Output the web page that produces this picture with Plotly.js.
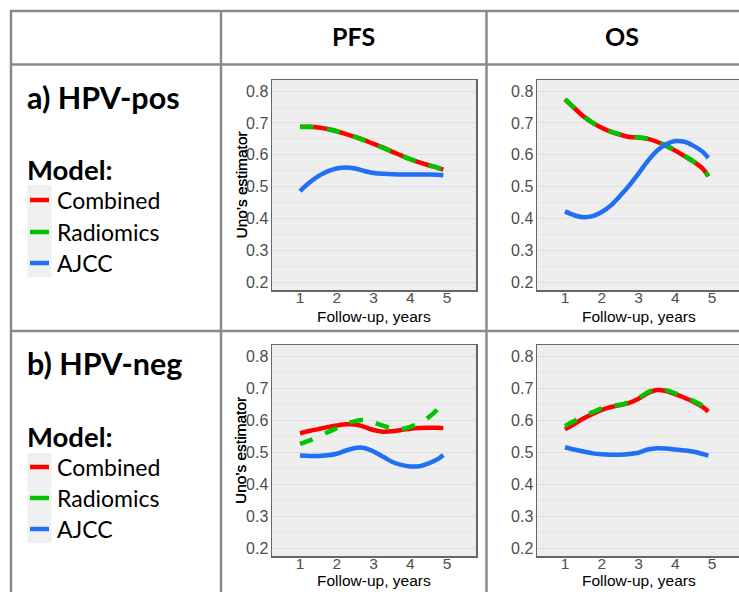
<!DOCTYPE html>
<html><head><meta charset="utf-8">
<script src="https://cdn.plot.ly/plotly-3.0.1.min.js"></script>
<style>html,body{margin:0;padding:0;overflow:hidden;background:#fff}#chart{width:760px;height:592px}</style>
</head><body><div id="chart"></div><script>
// ---- data ----
const followUp = [1, 1.25, 1.5, 1.75, 2, 2.25, 2.5, 2.75, 3, 3.25, 3.5, 3.75, 4, 4.25, 4.5, 4.75, 4.9];
const models = ["Combined", "Radiomics", "AJCC"];
const columns = ["PFS", "OS"];
const rows = ["a) HPV-pos", "b) HPV-neg"];
const xTicks = [1, 2, 3, 4, 5];
const yTicks = [0.2, 0.3, 0.4, 0.5, 0.6, 0.7, 0.8];
const yTickText = ["0.2", "0.3", "0.4", "0.5", "0.6", "0.7", "0.8"];

// HPV-pos, PFS
const posPfsCombined  = [0.688, 0.688, 0.686, 0.681, 0.674, 0.665, 0.656, 0.646, 0.634, 0.623, 0.610, 0.598, 0.586, 0.576, 0.567, 0.559, 0.553];
const posPfsRadiomics = [0.687, 0.687, 0.686, 0.681, 0.674, 0.665, 0.656, 0.645, 0.634, 0.622, 0.610, 0.597, 0.586, 0.576, 0.567, 0.559, 0.553];
const posPfsAjcc      = [0.486, 0.512, 0.533, 0.548, 0.557, 0.560, 0.557, 0.549, 0.543, 0.540, 0.539, 0.538, 0.538, 0.538, 0.538, 0.537, 0.536];
// HPV-pos, OS
const posOsCombined   = [0.774, 0.747, 0.721, 0.700, 0.685, 0.672, 0.663, 0.656, 0.654, 0.650, 0.641, 0.628, 0.613, 0.596, 0.578, 0.556, 0.532];
const posOsRadiomics  = [0.775, 0.748, 0.722, 0.701, 0.686, 0.673, 0.664, 0.657, 0.655, 0.651, 0.642, 0.629, 0.614, 0.597, 0.579, 0.557, 0.533];
const posOsAjcc       = [0.422, 0.410, 0.404, 0.407, 0.420, 0.441, 0.471, 0.504, 0.541, 0.580, 0.612, 0.633, 0.643, 0.641, 0.628, 0.609, 0.590];
// HPV-neg, PFS
const negPfsCombined  = [0.559, 0.566, 0.572, 0.578, 0.583, 0.587, 0.586, 0.579, 0.569, 0.564, 0.565, 0.569, 0.573, 0.575, 0.576, 0.576, 0.575];
const negPfsRadiomics = [0.526, 0.536, 0.548, 0.562, 0.575, 0.588, 0.597, 0.600, 0.593, 0.583, 0.574, 0.572, 0.579, 0.590, 0.609, 0.635, 0.663];
const negPfsAjcc      = [0.489, 0.488, 0.488, 0.490, 0.495, 0.505, 0.513, 0.513, 0.502, 0.486, 0.470, 0.460, 0.455, 0.456, 0.465, 0.478, 0.491];
// HPV-neg, OS
const negOsCombined   = [0.571, 0.588, 0.605, 0.619, 0.632, 0.641, 0.647, 0.654, 0.667, 0.684, 0.694, 0.691, 0.681, 0.670, 0.657, 0.641, 0.627];
const negOsRadiomics  = [0.582, 0.597, 0.613, 0.625, 0.637, 0.644, 0.648, 0.656, 0.669, 0.687, 0.698, 0.694, 0.684, 0.672, 0.660, 0.645, 0.632];
const negOsAjcc       = [0.515, 0.508, 0.502, 0.496, 0.493, 0.492, 0.492, 0.494, 0.498, 0.508, 0.512, 0.511, 0.508, 0.505, 0.501, 0.494, 0.489];

// ---- styling ----
const W = 760, H = 592;
const fx = p => p / W;
const fy = p => 1 - p / H;
const colors = {Combined: "#FF0000", Radiomics: "#00C400", AJCC: "#2070F5"};
const dashes = {Combined: "solid", Radiomics: "dash", AJCC: "solid"};
const sans = "Liberation Sans, Arial, sans-serif";
const humanist = "Lato, Noto Sans, sans-serif";

const panels = [
  {ax: "", series: [posPfsCombined, posPfsRadiomics, posPfsAjcc], xd: [272, 476], yd: [80, 290], xt: 316},
  {ax: "2", series: [posOsCombined, posOsRadiomics, posOsAjcc], xd: [537, 741], yd: [80, 290], xt: 316},
  {ax: "3", series: [negPfsCombined, negPfsRadiomics, negPfsAjcc], xd: [272, 476], yd: [345, 556], xt: 580},
  {ax: "4", series: [negOsCombined, negOsRadiomics, negOsAjcc], xd: [537, 741], yd: [345, 556], xt: 580}
];

const traces = [];
const layout = {
  width: W, height: H, margin: {l: 0, r: 0, t: 0, b: 0},
  paper_bgcolor: "#FFFFFF", plot_bgcolor: "#EEEEEE", showlegend: false,
  font: {family: sans},
  shapes: [], annotations: []
};

panels.forEach(p => {
  p.series.forEach((vals, i) => {
    const m = models[i];
    traces.push({
      x: followUp, y: vals, type: "scatter", mode: "lines", name: m,
      xaxis: "x" + p.ax, yaxis: "y" + p.ax,
      line: {color: colors[m], width: 4.5, dash: dashes[m], shape: "spline", smoothing: 0.8}
    });
  });
  layout["xaxis" + p.ax] = {
    domain: [fx(p.xd[0]), fx(p.xd[1])], anchor: "y" + p.ax,
    range: [0.238, 5.789], tickvals: xTicks, showgrid: false, zeroline: false,
    showline: true, mirror: true, linecolor: "#666666", linewidth: 1.5, ticks: "",
    ticklabelstandoff: -7,
    tickfont: {size: 15.5, color: "#4D4D4D", family: sans}
  };
  layout["yaxis" + p.ax] = {
    domain: [fy(p.yd[1]), fy(p.yd[0])], anchor: "x" + p.ax,
    range: [0.175, 0.835], tickvals: yTicks, ticktext: yTickText,
    showgrid: true, gridcolor: "#DEDEDE", gridwidth: 1, zeroline: false,
    minor: {tickvals: [0.25, 0.35, 0.45, 0.55, 0.65, 0.75], showgrid: true, gridcolor: "#E4E4E4", gridwidth: 1},
    showline: true, mirror: true, linecolor: "#666666", linewidth: 1.5, ticks: "",
    ticklabelstandoff: -1,
    tickfont: {size: 16, color: "#4D4D4D", family: sans}
  };
  layout.annotations.push({
    text: "Uno's estimator", xref: "paper", yref: "paper", textangle: -90,
    x: fx(240.5), y: fy((p.yd[0] + p.yd[1]) / 2), xanchor: "center", yanchor: "middle", showarrow: false,
    font: {size: 15.5, color: "#000000", family: sans}
  });
  layout.annotations.push({
    text: "Follow-up, years", xref: "paper", yref: "paper",
    x: fx((p.xd[0] + p.xd[1]) / 2), y: fy(p.xt), xanchor: "center", yanchor: "middle", showarrow: false,
    font: {size: 15.5, color: "#000000", family: sans}
  });
});

// table lines
const lc = "#8A8A8A", lw = 2.5;
function hline(y, x0, x1) { layout.shapes.push({type: "line", xref: "paper", yref: "paper", x0: fx(x0), x1: fx(x1), y0: fy(y), y1: fy(y), line: {color: lc, width: lw}, layer: "below"}); }
function vline(x, y0, y1) { layout.shapes.push({type: "line", xref: "paper", yref: "paper", x0: fx(x), x1: fx(x), y0: fy(y0), y1: fy(y1), line: {color: lc, width: lw}, layer: "below"}); }
hline(11, 10, W); hline(64.5, 11, W); hline(331, 11, W);
vline(11, 10, H + 2); vline(221, 11, H + 2); vline(486.5, 11, H + 2);

// column headers
[[353, columns[0]], [622, columns[1]]].forEach(([x, t]) => layout.annotations.push({
  text: "<b>" + t + "</b>", xref: "paper", yref: "paper", x: fx(x), y: fy(36), xanchor: "center", yanchor: "middle",
  showarrow: false, font: {size: 25, color: "#000000", family: humanist}
}));

// row labels + legend
const rowGeo = [
  {title: 97, model: 169, items: [200, 232, 263], key: [185, 277]},
  {title: 363, model: 436, items: [467, 498, 529], key: [453, 543]}
];
rowGeo.forEach((g, r) => {
  layout.annotations.push({text: "<b>" + rows[r] + "</b>", xref: "paper", yref: "paper", x: fx(25), y: fy(g.title),
    xanchor: "left", yanchor: "middle", showarrow: false, font: {size: 30.5, color: "#000000", family: humanist}});
  layout.annotations.push({text: "<b>Model:</b>", xref: "paper", yref: "paper", x: fx(25), y: fy(g.model),
    xanchor: "left", yanchor: "middle", showarrow: false, font: {size: 27.5, color: "#000000", family: humanist}});
  layout.shapes.push({type: "rect", xref: "paper", yref: "paper", x0: fx(27.5), x1: fx(51.5), y0: fy(g.key[0]), y1: fy(g.key[1]),
    fillcolor: "#F0F0F0", line: {width: 0}, layer: "below"});
  models.forEach((m, i) => {
    layout.shapes.push({type: "line", xref: "paper", yref: "paper", x0: fx(30), x1: fx(49), y0: fy(g.items[i]), y1: fy(g.items[i]),
      line: {color: colors[m], width: 4.5}});
    layout.annotations.push({text: m, xref: "paper", yref: "paper", x: fx(55), y: fy(g.items[i]),
      xanchor: "left", yanchor: "middle", showarrow: false, font: {size: 23, color: "#000000", family: humanist}});
  });
});

Plotly.newPlot("chart", traces, layout, {displayModeBar: false, staticPlot: true});
</script></body></html>
